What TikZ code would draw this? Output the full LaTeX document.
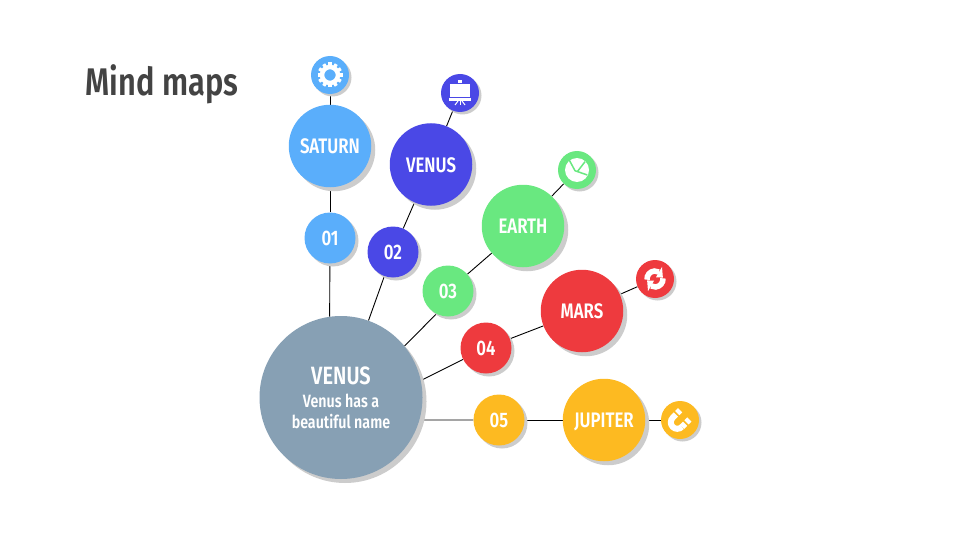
\documentclass[tikz,border=0pt]{standalone}
\usepackage{fontspec}
\setmainfont[FakeStretch=0.8]{Fira Sans SemiBold}
\usetikzlibrary{backgrounds,shadows}
\definecolor{satcol}{HTML}{5AAEFB}
\definecolor{vencol}{HTML}{4A48E6}
\definecolor{earcol}{HTML}{69E880}
\definecolor{marcol}{HTML}{EE3A3E}
\definecolor{jupcol}{HTML}{FDBA21}
\definecolor{maincol}{HTML}{87A0B4}
\definecolor{shadecol}{HTML}{CCCCCC}
\definecolor{titlecol}{HTML}{434343}
\begin{document}
\begin{tikzpicture}[
        x=1pt, y=-1pt,
        bubble/.style 2 args={
            circle,
            inner sep=0pt,
            minimum size=#1,
            text=white,
            font=\fontsize{21}{24}\selectfont,
            drop shadow={shadow xshift=#2, shadow yshift=-#2, fill=shadecol, opacity=1}
        },
        tag/.style={text height=15.5pt, text depth=0pt},
        link/.style={draw=black, line width=0.9pt},
        glyph/.style={draw=white, line width=#1, line cap=butt}
    ]
    \useasboundingbox (0, 0) rectangle (960, 540);

    \node[anchor=west, text=titlecol, font=\fontsize{38.5}{42}\selectfont] (title) at (82, 84) {Mind maps};

    \node[bubble={163pt}{4pt}, fill=maincol, align=center] (main) at (341, 397.5) {{\fontsize{25}{28}\selectfont VENUS}\\[-1pt]{\fontsize{17.8}{20}\selectfont Venus has a}\\[-3pt]{\fontsize{17.8}{20}\selectfont beautiful name}};

    \node[bubble={51pt}{3pt}, tag, fill=satcol] (n1) at (330, 238) {01};
    \node[bubble={51pt}{3pt}, tag, fill=vencol] (n2) at (393, 252) {02};
    \node[bubble={51pt}{3pt}, tag, fill=earcol] (n3) at (448, 291) {03};
    \node[bubble={51pt}{3pt}, tag, fill=marcol] (n4) at (486, 348) {04};
    \node[bubble={51pt}{3pt}, tag, fill=jupcol] (n5) at (499, 420) {05};

    \node[bubble={82.5pt}{4pt}, tag, fill=satcol] (saturn)  at (330, 146) {SATURN};
    \node[bubble={82.5pt}{4pt}, tag, fill=vencol] (venus)   at (431, 164.5) {VENUS};
    \node[bubble={82.5pt}{4pt}, tag, fill=earcol] (earth)   at (523, 226) {EARTH};
    \node[bubble={82.5pt}{4pt}, tag, fill=marcol] (mars)    at (582, 311) {MARS};
    \node[bubble={82.5pt}{4pt}, tag, fill=jupcol] (jupiter) at (604, 420) {JUPITER};

    \node[bubble={38pt}{2.5pt}, fill=satcol] (ic1) at (330, 75) {};
    \node[bubble={38pt}{2.5pt}, fill=vencol] (ic2) at (460, 93) {};
    \node[bubble={38pt}{2.5pt}, fill=earcol] (ic3) at (577, 170) {};
    \node[bubble={38pt}{2.5pt}, fill=marcol] (ic4) at (655, 279) {};
    \node[bubble={38pt}{2.5pt}, fill=jupcol] (ic5) at (680, 420) {};

    \begin{scope}[on background layer]
    \draw[link] (main.98) -- (n1);
    \draw[link] (n1) -- (saturn);
    \draw[link] (saturn) -- (ic1);
    \draw[link] (main) -- (n2);
    \draw[link] (n2) -- (venus);
    \draw[link] (venus) -- (ic2);
    \draw[link] (main.39) -- (n3.243);
    \draw[link] (n3) -- (earth);
    \draw[link] (earth) -- (ic3);
    \draw[link] (main.12) -- (n4);
    \draw[link] (n4) -- (mars);
    \draw[link] (mars) -- (ic4);
    \draw[link] (main.-16) -- (n5);
    \draw[link] (n5) -- (jupiter);
    \draw[link] (jupiter) -- (ic5);
    \end{scope}

    \begin{scope}[shift={(ic1)}]
    \draw[glyph=4.5pt] (0, 0) circle (8);
    \foreach \a in {0,30,...,330}
        \draw[glyph=3.4pt] (\a:8) -- (\a:12.5);
    \end{scope}

    \begin{scope}[shift={(ic2)}]
    \fill[white] (-2, -12.5) rectangle (2, -9.5);
    \fill[white] (-10, -8.5) rectangle (10, 4.5);
    \fill[white] (-11, 5.5) rectangle (11, 8);
    \draw[glyph=1pt] (-2, 8) -- (-5, 12);
    \draw[glyph=1pt] (0, 8) -- (0, 12);
    \draw[glyph=1pt] (2, 8) -- (5, 12);
    \end{scope}

    \begin{scope}[shift={(ic3)}]
    \fill[white] (0, 0) circle (12);
    \draw[earcol, line width=1.5pt] (-8.7, -11.7) -- (-2, 0.7) -- (10.3, 5);
    \draw[earcol, line width=1.5pt] (0.3, 1.7) -- (8, -8.3);
    \end{scope}

    \begin{scope}[shift={(ic4)}]
    \draw[glyph=5.5pt] (175:8) arc (175:300:8);
    \fill[white] (300:2) -- (300:14) -- (350:8) -- cycle;
    \draw[glyph=5.5pt] (355:8) arc (355:480:8);
    \fill[white] (120:2) -- (120:14) -- (170:8) -- cycle;
    \end{scope}

    \begin{scope}[shift={(ic5)}]
    \draw[glyph=6pt] (1.9, 6.9) arc (45:225:6.5) -- (-4.1, -5.5);
    \draw[glyph=6pt] (1.9, 6.9) -- (5.1, 3.7);
    \draw[glyph=6pt] (-2.7, -6.9) -- (0.1, -9.7);
    \draw[glyph=6pt] (6.5, 2.3) -- (9.3, -0.5);
    \end{scope}

\end{tikzpicture}
\end{document}
